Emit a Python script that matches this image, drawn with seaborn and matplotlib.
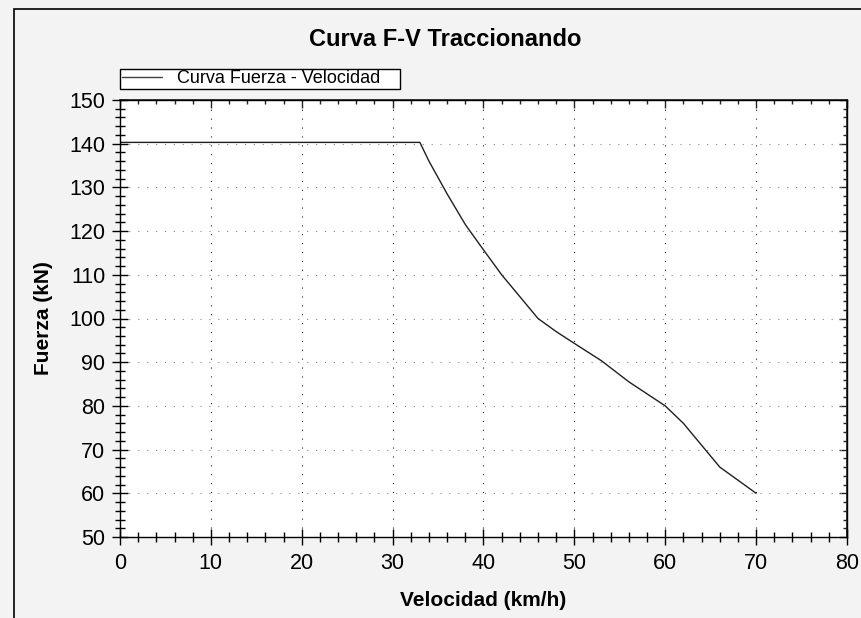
import numpy as np
import pandas as pd
import seaborn as sns
import matplotlib
matplotlib.use("Agg")
import matplotlib.pyplot as plt
from matplotlib.ticker import MultipleLocator
from matplotlib.patches import Rectangle

velocidad = [0, 33, 34, 36, 38, 40, 42, 44, 46, 48, 50, 53, 56, 60, 62, 64, 66, 68, 70]
fuerza = [140.3, 140.3, 136.0, 128.5, 121.5, 115.7, 110.0, 105.0, 100.0, 97.0, 94.3,
          90.3, 85.5, 80.0, 76.0, 71.0, 66.0, 63.0, 60.0]
x_ticks = [0, 10, 20, 30, 40, 50, 60, 70, 80]
y_ticks = [50, 60, 70, 80, 90, 100, 110, 120, 130, 140, 150]

sns.set_theme(style="white")
plt.rcParams['font.family'] = ['Liberation Sans', 'DejaVu Sans']
plt.rcParams['text.color'] = 'black'
plt.rcParams['axes.labelcolor'] = 'black'

W, H = 861, 618
fig = plt.figure(figsize=(W / 100, H / 100), dpi=100)
fig.patch.set_facecolor('#f3f3f3')
fig.patches.append(Rectangle((14 / W, -0.1), 1.2, 1 - 9 / H + 0.1, transform=fig.transFigure,
                             fill=False, edgecolor='black', linewidth=1.2))

ax = fig.add_axes([120 / W, 1 - 537 / H, (847 - 120) / W, (537 - 100) / H])
ax.set_facecolor('white')

df = pd.DataFrame({'Velocidad': velocidad, 'Fuerza': fuerza})
sns.lineplot(data=df, x='Velocidad', y='Fuerza', ax=ax, color='#202020', linewidth=1.0,
             label='Curva Fuerza - Velocidad')

ax.set_xlim(0, 80)
ax.set_ylim(50, 150)
ax.set_xticks(x_ticks)
ax.set_yticks(y_ticks)
ax.xaxis.set_minor_locator(MultipleLocator(2))
ax.yaxis.set_minor_locator(MultipleLocator(2))
ax.xaxis.grid(True, which='major', linestyle=(0, (1, 7)), color='#222222', linewidth=0.8)
ax.yaxis.grid(True, which='major', linestyle=(0, (1, 7)), color='#888888', linewidth=0.8)
ax.set_axisbelow(True)

for s in ax.spines.values():
    s.set_color('black')
    s.set_linewidth(1.0)

ax.tick_params(which='major', direction='inout', length=11, width=1.0, colors='black',
               labelsize=15.5, labelcolor='black', pad=5)
ax.tick_params(axis='x', which='major', pad=6)
ax.tick_params(which='minor', direction='inout', length=6.5, width=1.0, colors='black')
ax.tick_params(axis='both', which='both', bottom=True, left=True)

# top/right inward ticks
sx = ax.secondary_xaxis('top')
sx.set_xticks(x_ticks)
sx.xaxis.set_minor_locator(MultipleLocator(2))
sx.tick_params(which='major', direction='in', length=6, width=1.0, labeltop=False)
sx.tick_params(which='minor', direction='in', length=3, width=1.0)
sy = ax.secondary_yaxis('right')
sy.set_yticks(y_ticks)
sy.yaxis.set_minor_locator(MultipleLocator(2))
sy.tick_params(which='major', direction='in', length=6, width=1.0, labelright=False)
sy.tick_params(which='minor', direction='in', length=3, width=1.0)

ax.set_xlabel('Velocidad (km/h)', fontsize=15, fontweight='bold', labelpad=12, color='black')
ax.set_ylabel('Fuerza (kN)', fontsize=15, fontweight='bold', labelpad=12, color='black')
fig.text(445 / W, 1 - 40 / H, 'Curva F-V Traccionando', ha='center', va='center',
         fontsize=17, fontweight='bold', color='black')

# legend box drawn explicitly to match the reference width
ax.add_patch(Rectangle((120 / W, 1 - 89 / H), 280 / W, 20 / H, transform=fig.transFigure,
                       facecolor='white', edgecolor='black', linewidth=1.0,
                       clip_on=False, zorder=4))
leg = ax.legend(loc='lower left', bbox_to_anchor=(120 / W, 1 - 89 / H),
                bbox_transform=fig.transFigure, frameon=False, fontsize=13,
                handlelength=2.2, borderpad=0.1, borderaxespad=0, handletextpad=0.85)
leg.set_zorder(5)
for l in leg.get_lines():
    l.set_color('#404040')
for t in leg.get_texts():
    t.set_color('black')

fig.savefig('out.png', dpi=100, facecolor=fig.get_facecolor())
